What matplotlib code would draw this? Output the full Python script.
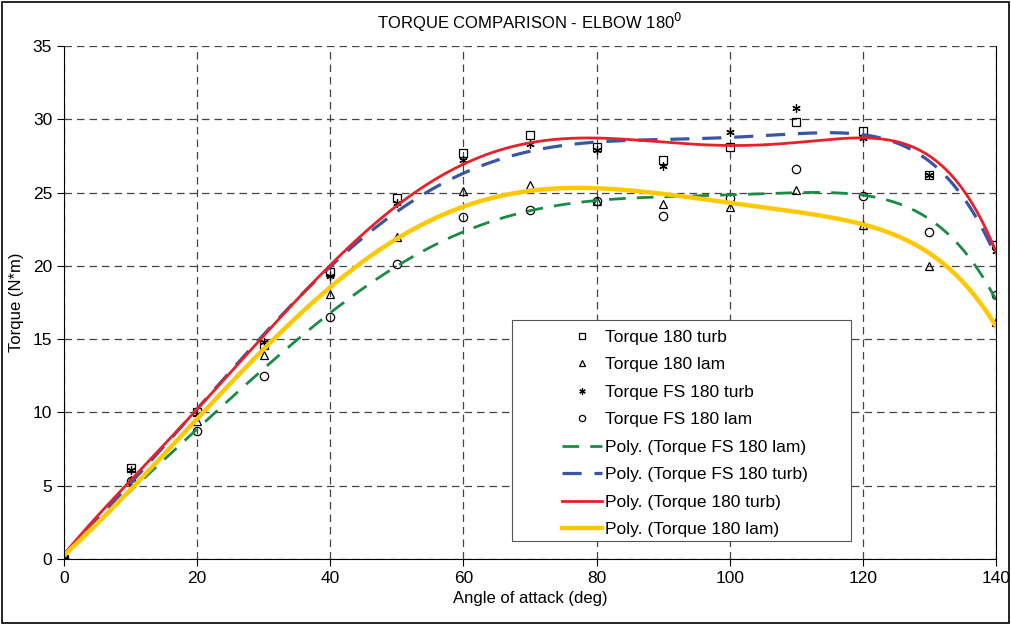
import numpy as np
import matplotlib.pyplot as plt
from matplotlib.patches import Rectangle

plt.rcParams['font.family'] = ['Liberation Sans', 'DejaVu Sans']

angle = [0, 10, 20, 30, 40, 50, 60, 70, 80, 90, 100, 110, 120, 130, 140]
torque_180_turb = [0, 6.2, 10.0, 14.6, 19.6, 24.6, 27.7, 28.9, 28.1, 27.2, 28.1, 29.8, 29.2, 26.2, 21.4]
torque_180_lam = [0, 5.4, 9.4, 13.9, 18.1, 22.0, 25.1, 25.5, 24.4, 24.2, 24.0, 25.2, 22.8, 20.0, 16.2]
torque_fs_turb = [0, 6.1, 9.9, 14.8, 19.3, 24.3, 27.2, 28.3, 27.9, 26.8, 29.1, 30.8, 28.7, 26.2, 21.0]
torque_fs_lam = [0, 5.3, 8.7, 12.5, 16.5, 20.1, 23.3, 23.8, 24.4, 23.4, 24.6, 26.6, 24.8, 22.3, 18.0]

x = np.array(angle, dtype=float)
xs = np.linspace(0, 140, 300)

def poly(y, deg=6):
    c = np.polyfit(x, np.array(y, dtype=float), deg)
    return np.polyval(c, xs)

fig = plt.figure(figsize=(10.11, 6.25), dpi=100)
ax = fig.add_axes([0.0633, 0.1056, 0.9218, 0.8208])

mk = dict(linestyle='none', markerfacecolor='none', markeredgecolor='black', markersize=6, markeredgewidth=0.9)
ax.plot(x, torque_180_turb, marker='s', label='Torque 180 turb', **mk)
ax.plot(x, torque_180_lam, marker='^', label='Torque 180 lam', **mk)
ax.plot(x, torque_fs_turb, marker=(6, 2, 0), label='Torque FS 180 turb', **mk)
ax.plot(x, torque_fs_lam, marker='o', label='Torque FS 180 lam', **mk)

ax.plot(xs, poly(torque_fs_lam), color='#1b8a45', lw=2, dashes=(6, 4), label='Poly. (Torque FS 180 lam)')
ax.plot(xs, poly(torque_fs_turb), color='#3a55a5', lw=2.3, dashes=(6, 4), label='Poly. (Torque FS 180 turb)')
ax.plot(xs, poly(torque_180_turb), color='#e8202a', lw=2, label='Poly. (Torque 180 turb)')
ax.plot(xs, poly(torque_180_lam), color='#ffc800', lw=3.2, label='Poly. (Torque 180 lam)')

ax.set_xlim(0, 140)
ax.set_ylim(0, 35)
ax.set_xticks(range(0, 141, 20))
ax.set_yticks(range(0, 36, 5))
ax.grid(True, color='#444444', linestyle=(0, (6, 4)), linewidth=0.9)
ax.spines['top'].set_visible(False)
ax.tick_params(labelsize=12.5, length=5, width=0.8)
ax.set_xlabel('Angle of attack (deg)', fontsize=12, labelpad=4)
ax.set_ylabel('Torque (N*m)', fontsize=12, labelpad=6)
ax.set_title('TORQUE COMPARISON - ELBOW 180$^0$', fontsize=12, pad=12)

# legend frame drawn separately so the entries can sit indented like Excel's
ax.add_patch(Rectangle((0.4807, 0.035), 0.3637, 0.431, transform=ax.transAxes,
                       facecolor='white', edgecolor='#555555', linewidth=0.8, zorder=4))
leg = ax.legend(loc='upper left', bbox_to_anchor=(0.534, 0.447), frameon=False,
                borderaxespad=0, borderpad=0, fontsize=12.5,
                handlelength=2.3, labelspacing=0.71, handletextpad=0.2,
                markerscale=0.75)
leg.set_zorder(5)

fig.patches.append(Rectangle((0.002, 0.003), 0.996, 0.994, transform=fig.transFigure,
                             fill=False, edgecolor='black', linewidth=1.2))

fig.savefig('out.png', dpi=100)
